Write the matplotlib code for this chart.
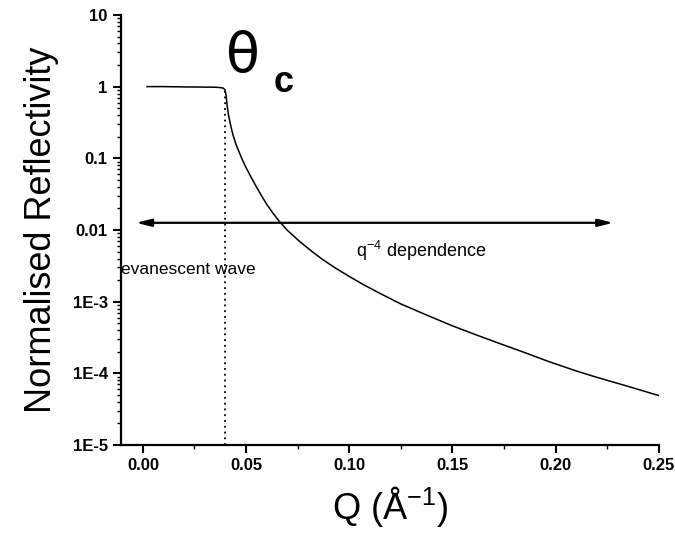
import numpy as np
import matplotlib.pyplot as plt
from matplotlib.ticker import FixedLocator, FixedFormatter, LogLocator, MultipleLocator

plt.rcParams['font.family'] = ['Liberation Sans', 'DejaVu Sans']
plt.rcParams['mathtext.fontset'] = 'custom'
plt.rcParams['mathtext.rm'] = 'Liberation Sans'

# reflectivity curve
q = [0.002, 0.010, 0.020, 0.030, 0.035, 0.0375, 0.039, 0.0398, 0.0403, 0.0408,
     0.0415, 0.0425, 0.0435, 0.045, 0.0465, 0.048, 0.050, 0.0525, 0.055, 0.0575,
     0.060, 0.063, 0.066, 0.070, 0.076, 0.082, 0.087, 0.093, 0.100, 0.107,
     0.115, 0.125, 0.137, 0.150, 0.162, 0.173, 0.185, 0.197, 0.210, 0.220,
     0.235, 0.250]
refl = [1.0, 1.0, 0.99, 0.985, 0.98, 0.97, 0.95, 0.90, 0.75, 0.55,
        0.40, 0.29, 0.22, 0.16, 0.125, 0.098, 0.074, 0.054, 0.040, 0.030,
        0.0228, 0.0172, 0.0133, 0.0099, 0.0069, 0.0050, 0.0039, 0.00298, 0.00225, 0.00172,
        0.00130, 0.00093, 0.00066, 0.00046, 0.00034, 0.00026, 0.000195, 0.000145, 0.000108, 0.000088,
        0.000066, 0.000049]

q_crit = 0.040
y_ticks = [10, 1, 0.1, 0.01, 1e-3, 1e-4, 1e-5]
y_labels = ['10', '1', '0.1', '0.01', '1E-3', '1E-4', '1E-5']
x_ticks = [0.00, 0.05, 0.10, 0.15, 0.20, 0.25]
x_labels = ['0.00', '0.05', '0.10', '0.15', '0.20', '0.25']

fig = plt.figure(figsize=(6.75, 5.33), dpi=100)
ax = fig.add_axes([0.179, 0.165, 0.797, 0.807])

ax.plot(q, refl, color='k', lw=1.1)
ax.vlines(q_crit, 1e-5, 0.88, colors='k', linestyles=(0, (1, 2.2)), lw=1.3)

# double headed arrow across the plot
ax.annotate('', xy=(-0.0034, 0.0126), xytext=(0.228, 0.0126),
            arrowprops=dict(arrowstyle='<|-|>,head_length=0.9,head_width=0.22',
                            color='k', lw=1.6, shrinkA=0, shrinkB=0))

ax.text(-0.0105, 0.0028, 'evanescent wave', fontsize=12.5, va='center', ha='left')
ax.text(0.1035, 0.0051, r'q$^{\mathrm{-4}}$ dependence', fontsize=13, va='center', ha='left')
ax.text(0.0405, 2.6, 'θ', fontsize=40, family='DejaVu Sans', va='center', ha='left')
ax.text(0.0635, 1.15, 'c', fontsize=26, fontweight='bold', va='center', ha='left')

ax.set_yscale('log')
ax.set_ylim(1e-5, 10)
ax.set_xlim(-0.0107, 0.25)

ax.yaxis.set_major_locator(FixedLocator(y_ticks))
ax.yaxis.set_major_formatter(FixedFormatter(y_labels))
ax.yaxis.set_minor_locator(LogLocator(base=10, subs=np.arange(2, 10)))
ax.yaxis.set_minor_formatter(FixedFormatter([]))
ax.xaxis.set_major_locator(FixedLocator(x_ticks))
ax.xaxis.set_major_formatter(FixedFormatter(x_labels))
ax.xaxis.set_minor_locator(MultipleLocator(0.025))

ax.spines['top'].set_visible(False)
ax.spines['right'].set_visible(False)
ax.spines['left'].set_linewidth(1.6)
ax.spines['bottom'].set_linewidth(1.6)
ax.tick_params(which='major', direction='out', length=6, width=1.5, labelsize=12)
ax.tick_params(which='minor', direction='out', length=3, width=1.0)
for lab in ax.get_xticklabels() + ax.get_yticklabels():
    lab.set_fontweight('bold')

ax.set_xlabel(r'Q (Å$^{\mathrm{-1}}$)', fontsize=26, labelpad=8)
ax.set_ylabel('Normalised Reflectivity', fontsize=26, labelpad=10)

plt.savefig('out.png', dpi=100)
